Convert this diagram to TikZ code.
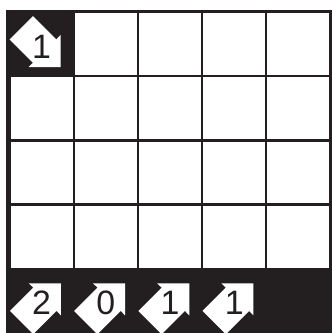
\documentclass[tikz,border=0pt]{standalone}
\usepackage{fontspec}
\setmainfont{Liberation Sans}
\definecolor{inkblack}{RGB}{35,31,32}
\tikzset{
  cellbox/.style={fill=white},
  cluemark/.style={fill=white},
  cluenum/.style={font=\fontsize{15}{16}\selectfont, text=inkblack, inner sep=0pt},
  arrowclue/.pic={
    \fill[cluemark] (-0.363,0) -- (0,0.363) -- (-0.07,0.43) -- (0.43,0.43)
      -- (0.43,-0.07) -- (0.363,0) -- (0,-0.363) -- cycle;
  },
}
\begin{document}
\begin{tikzpicture}
\useasboundingbox (-0.148,0) rectangle (5.008,5.187);

% frame and cells
\fill[inkblack] (-0.055,0) rectangle (5.02,5.03);
\foreach \col in {0,...,4}
  \foreach \row in {1,2,3}
    \fill[cellbox] (\col+0.018,\row+0.018) rectangle (\col+0.982,\row+0.982);
\foreach \col in {1,...,4}
  \fill[cellbox] (\col+0.018,4.018) rectangle (\col+0.982,4.982);

% clue in the corner
\pic[yscale=-1] at (0.366,4.572) {arrowclue};
\node[cluenum] (corner) at (0.5,4.455) {1};

% clues along the bottom
\foreach \col/\num in {0/2,1/0,2/1,3/1}{
  \pic at (\col+0.37,0.344) {arrowclue};
  \node[cluenum] (bot\col) at (\col+0.5,0.475) {\num};
}
\end{tikzpicture}
\end{document}
